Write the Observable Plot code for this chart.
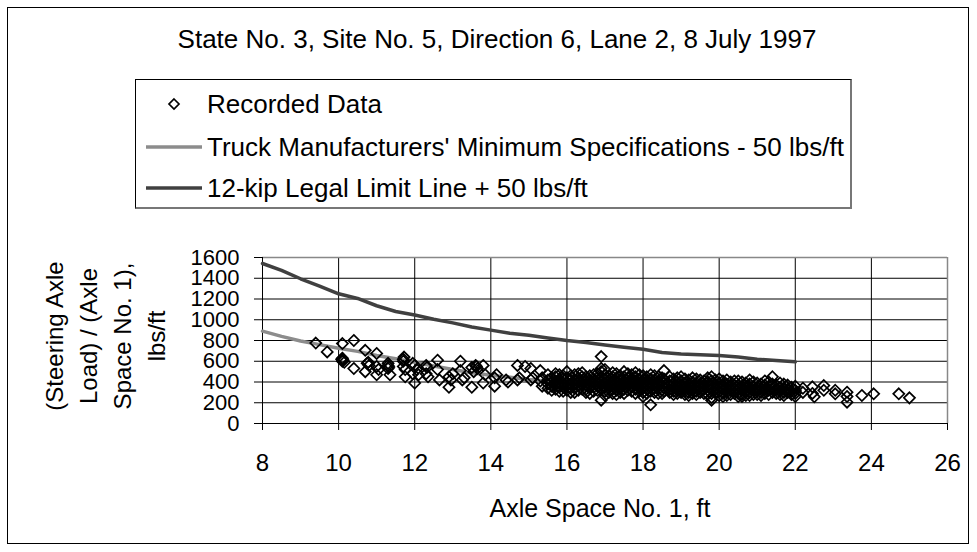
<!DOCTYPE html>
<html>
<head>
<meta charset="utf-8">
<script src="https://cdn.jsdelivr.net/npm/d3@7"></script>
<script src="https://cdn.jsdelivr.net/npm/@observablehq/plot@0.6"></script>
<style>
  html, body { margin: 0; padding: 0; background: #fff; }
  #wrap { position: relative; width: 977px; height: 552px; font-family: "Liberation Sans", Arial, sans-serif; color: #000; overflow: hidden; }
  #frame { position: absolute; left: 7px; top: 7px; width: 962px; height: 537px; border: 1px solid #000; box-sizing: border-box; pointer-events: none; }
  #chart { position: absolute; left: 0; top: 0; }
  .title { position: absolute; left: 497px; top: 24px; transform: translateX(-50%); font-size: 26px; line-height: 30px; white-space: nowrap; }
  .legend { position: absolute; left: 135px; top: 79px; width: 717px; height: 130px; box-sizing: border-box; border-top: 1px solid #000; border-left: 1px solid #000; border-right: 2px solid #777; border-bottom: 2px solid #777; background: #fff; }
  .item { position: absolute; left: 71px; font-size: 26px; line-height: 30px; white-space: nowrap; }
  .sym { position: absolute; }
  .ytitle { position: absolute; left: 16px; top: 268px; width: 180px; height: 136px; transform: rotate(-90deg); transform-origin: 50% 50%; text-align: center; font-size: 24px; line-height: 34px; white-space: nowrap; }
  .xtitle { position: absolute; left: 600px; top: 493px; transform: translateX(-50%); font-size: 25px; line-height: 30px; white-space: nowrap; }
</style>
</head>
<body>
<div id="wrap">
  <div id="chart"></div>
  <div class="title" id="title"></div>
  <div class="legend" id="legend"></div>
  <div class="ytitle" id="ytitle"></div>
  <div class="xtitle" id="xtitle"></div>
  <div id="frame"></div>
</div>
<script>
// ---- texts ----
const titleText = "State No. 3, Site No. 5, Direction 6, Lane 2, 8 July 1997";
const seriesNames = ["Recorded Data", "Truck Manufacturers' Minimum Specifications - 50 lbs/ft", "12-kip Legal Limit Line + 50 lbs/ft"];
const yTitleLines = ["(Steering Axle", "Load) / (Axle", "Space No. 1),", "lbs/ft"];
const xTitleText = "Axle Space No. 1, ft";

// ---- ticks ----
const xTicks = [8, 10, 12, 14, 16, 18, 20, 22, 24, 26];
const yTicks = [0, 200, 400, 600, 800, 1000, 1200, 1400, 1600];

// ---- 12-kip legal limit line + 50 lbs/ft ----
const legalX = [8, 8.5, 9, 9.5, 10, 10.5, 11, 11.5, 12, 12.5, 13, 13.5, 14, 14.5, 15, 15.5, 16, 16.5, 17, 17.5, 18, 18.5, 19, 19.5, 20, 20.5, 21, 21.5, 22];
const legalY = [1542, 1475, 1395, 1325, 1250, 1205, 1135, 1080, 1045, 1005, 970, 930, 900, 870, 850, 825, 800, 780, 757, 735, 715, 685, 670, 662, 655, 640, 620, 607, 595];

// ---- truck manufacturers' minimum specifications - 50 lbs/ft ----
const truckX = [8, 8.5, 9, 9.5, 10, 10.5, 11, 11.5, 12, 12.5, 13, 13.5, 14, 14.5, 15, 15.5, 16, 16.5, 17, 17.5, 18, 18.5, 19, 19.5, 20, 20.5, 21, 21.5, 22];
const truckY = [890, 840, 795, 760, 725, 695, 655, 625, 590, 555, 520, 490, 465, 445, 425, 410, 395, 380, 365, 355, 345, 335, 325, 315, 305, 298, 290, 283, 276];

// ---- recorded data [axle space, lbs/ft] ----
const recorded = [
  [9.4,775],[9.7,690],[10.1,770],[10.1,615],[10.1,600],[10.15,590],[10.1,630],[10.12,610],[10.08,620],
  [10.4,800],[10.4,530],[10.7,705],[10.75,580],[10.7,500],[10.8,560],[10.78,590],
  [11.0,675],[11.0,550],[11.0,470],[11.05,520],[11.3,580],[11.3,530],[11.35,470],[11.3,560],[11.32,545],
  [11.7,620],[11.7,600],[11.72,640],[11.7,550],[11.75,450],[11.75,520],[11.95,580],[11.95,480],
  [12.0,560],[12.05,520],[12.0,390],[12.1,470],[12.3,560],[12.3,480],[12.35,450],[12.32,540],
  [12.6,610],[12.6,520],[12.65,420],[12.9,450],[12.9,350],[12.95,420],[13.0,480],
  [13.2,600],[13.2,510],[13.25,420],[13.3,440],[13.5,540],[13.5,350],[13.55,500],[13.6,560],[13.65,530],[13.62,550],
  [13.8,560],[13.8,390],[13.85,470],[14.1,440],[14.1,360],[14.15,470],[14.4,420],[14.45,400],
  [14.7,560],[14.7,420],[14.75,440],[14.9,550],[15.05,530],[15.05,420],[15.1,440],[15.35,440],[15.35,360],[15.3,410],[15.3,510],
  [15.5,470],[15.5,420],[15.5,380],[15.5,340],
  [15.6,440],[15.6,400],[15.6,360],[15.6,320],
  [15.7,450],[15.7,410],[15.7,370],[15.7,330],[15.7,480],
  [15.8,470],[15.8,430],[15.8,390],[15.8,350],[15.8,310],
  [15.9,460],[15.9,430],[15.9,390],[15.9,350],[15.9,310],
  [16.0,500],[16.0,440],[16.0,400],[16.0,360],[16.0,320],
  [16.1,460],[16.1,420],[16.1,380],[16.1,340],[16.1,300],
  [16.2,470],[16.2,420],[16.2,380],[16.2,340],[16.2,300],
  [16.3,480],[16.3,440],[16.3,400],[16.3,360],[16.3,320],
  [16.4,490],[16.4,450],[16.4,410],[16.4,370],[16.4,330],
  [16.5,450],[16.5,410],[16.5,370],[16.5,330],[16.5,300],
  [16.6,460],[16.6,420],[16.6,380],[16.6,340],[16.6,290],
  [16.7,470],[16.7,430],[16.7,390],[16.7,350],[16.7,310],
  [16.8,480],[16.8,440],[16.8,400],[16.8,360],[16.8,320],
  [16.9,645],[16.9,530],[16.9,500],[16.9,450],[16.9,410],[16.9,370],[16.9,330],[16.9,225],
  [17.0,520],[17.0,470],[17.0,430],[17.0,390],[17.0,350],[17.0,310],[17.0,270],
  [17.1,460],[17.1,420],[17.1,380],[17.1,340],[17.1,300],
  [17.2,490],[17.2,450],[17.2,410],[17.2,370],[17.2,330],[17.2,290],
  [17.3,480],[17.3,440],[17.3,400],[17.3,360],[17.3,320],[17.3,280],
  [17.4,460],[17.4,420],[17.4,380],[17.4,340],[17.4,300],
  [17.5,500],[17.5,450],[17.5,410],[17.5,370],[17.5,330],[17.5,290],
  [17.6,480],[17.6,440],[17.6,400],[17.6,360],[17.6,320],
  [17.7,470],[17.7,430],[17.7,390],[17.7,350],[17.7,310],
  [17.8,490],[17.8,450],[17.8,410],[17.8,370],[17.8,330],[17.8,290],
  [17.9,470],[17.9,430],[17.9,390],[17.9,350],[17.9,310],
  [18.0,460],[18.0,420],[18.0,380],[18.0,340],[18.0,300],[18.0,260],
  [18.1,450],[18.1,410],[18.1,370],[18.1,330],[18.1,290],
  [18.2,470],[18.2,430],[18.2,390],[18.2,350],[18.2,310],[18.2,180],
  [18.3,460],[18.3,420],[18.3,380],[18.3,340],[18.3,300],
  [18.4,450],[18.4,410],[18.4,370],[18.4,330],[18.4,290],
  [18.5,440],[18.5,400],[18.5,360],[18.5,320],[18.5,290],
  [18.55,510],[18.55,430],[18.55,390],[18.55,350],[18.55,310],
  [18.7,450],[18.7,410],[18.7,370],[18.7,330],[18.7,300],
  [18.8,430],[18.8,390],[18.8,350],[18.8,310],[18.8,280],
  [18.9,440],[18.9,400],[18.9,360],[18.9,320],[18.9,290],
  [19.0,450],[19.0,410],[19.0,370],[19.0,330],[19.0,300],
  [19.1,430],[19.1,390],[19.1,350],[19.1,310],[19.1,280],
  [19.2,420],[19.2,380],[19.2,340],[19.2,300],[19.2,270],
  [19.3,440],[19.3,400],[19.3,360],[19.3,320],[19.3,290],
  [19.4,430],[19.4,390],[19.4,350],[19.4,310],[19.4,280],
  [19.5,420],[19.5,380],[19.5,340],[19.5,300],
  [19.6,410],[19.6,370],[19.6,330],[19.6,290],
  [19.7,440],[19.7,400],[19.7,360],[19.7,320],[19.7,280],
  [19.8,450],[19.8,410],[19.8,370],[19.8,330],[19.8,290],[19.8,250],[19.8,225],
  [19.9,420],[19.9,380],[19.9,340],[19.9,300],
  [20.0,430],[20.0,390],[20.0,350],[20.0,310],[20.0,270],
  [20.1,410],[20.1,370],[20.1,330],[20.1,290],[20.1,260],
  [20.2,420],[20.2,380],[20.2,340],[20.2,300],[20.2,270],
  [20.3,400],[20.3,360],[20.3,320],[20.3,280],
  [20.4,410],[20.4,370],[20.4,330],[20.4,290],
  [20.5,410],[20.5,370],[20.5,330],[20.5,290],[20.5,260],
  [20.6,400],[20.6,360],[20.6,320],[20.6,280],[20.6,260],
  [20.7,390],[20.7,350],[20.7,310],[20.7,270],
  [20.8,420],[20.8,380],[20.8,340],[20.8,300],[20.8,270],
  [20.9,400],[20.9,360],[20.9,320],[20.9,280],
  [21.0,390],[21.0,350],[21.0,310],[21.0,280],
  [21.1,380],[21.1,340],[21.1,300],[21.1,270],
  [21.2,410],[21.2,370],[21.2,330],[21.2,290],
  [21.3,400],[21.3,360],[21.3,320],[21.3,280],
  [21.4,450],[21.4,380],[21.4,340],[21.4,300],
  [21.5,370],[21.5,330],[21.5,290],
  [21.6,390],[21.6,350],[21.6,310],[21.6,280],
  [21.7,380],[21.7,340],[21.7,300],[21.7,270],
  [21.8,370],[21.8,330],[21.8,300],
  [21.9,350],[21.9,310],[21.9,280],
  [22.0,360],[22.0,320],[22.0,290],[22.0,260],
  [22.2,340],[22.2,300],[22.45,353],[22.45,290],[22.5,257],
  [22.75,366],[22.75,320],[23.05,286],[23.05,320],
  [23.36,302],[23.36,206],[23.36,260],[23.75,270],[24.06,286],[24.72,286],[25.0,247]
];

// ---- build line tables ----
const legal = legalX.map((x, i) => ({x, y: legalY[i]}));
const truck = truckX.map((x, i) => ({x, y: truckY[i]}));

// ---- texts into DOM ----
document.getElementById("title").textContent = titleText;
document.getElementById("xtitle").textContent = xTitleText;
document.getElementById("ytitle").innerHTML = yTitleLines.map(s => `<div>${s}</div>`).join("");

const legend = document.getElementById("legend");
const rows = [24, 67, 108]; // centres relative to box
legend.innerHTML = `
  <svg class="sym" style="left:0;top:0" width="715" height="128">
    <path d="M38,${rows[0]-5} L43,${rows[0]} L38,${rows[0]+5} L33,${rows[0]} Z" fill="none" stroke="#000" stroke-width="1.7"/>
    <line x1="10" x2="66" y1="${rows[1]}" y2="${rows[1]}" stroke="#8c8c8c" stroke-width="3.5"/>
    <line x1="10" x2="66" y1="${rows[2]}" y2="${rows[2]}" stroke="#404040" stroke-width="3.5"/>
  </svg>
  ${seriesNames.map((s, i) => `<div class="item" style="top:${rows[i]-15}px">${s}</div>`).join("")}
`;

// ---- chart ----
const chart = Plot.plot({
  width: 977,
  height: 552,
  marginLeft: 262,
  marginRight: 30,
  marginTop: 257,
  marginBottom: 129,
  style: {fontFamily: "'Liberation Sans', Arial, sans-serif", fontSize: "22px", background: "transparent", color: "#000"},
  x: {domain: [8, 26]},
  y: {domain: [0, 1600]},
  marks: [
    Plot.gridX(xTicks, {stroke: "#000", strokeOpacity: 1, strokeWidth: 1}),
    Plot.gridY(yTicks, {stroke: "#000", strokeOpacity: 1, strokeWidth: 1}),
    Plot.ruleY([1600], {stroke: "#888", strokeWidth: 1.5}),
    Plot.ruleX([26], {stroke: "#888", strokeWidth: 1.5}),
    Plot.ruleX([8], {stroke: "#000"}),
    Plot.ruleY([0], {stroke: "#000"}),
    Plot.axisX(xTicks, {tickSize: 7, tickPadding: 23, fontSize: 24, label: null, stroke: "#000", tickFormat: d => String(d)}),
    Plot.axisY(yTicks, {tickSize: 8, tickPadding: 15, fontSize: 22, label: null, stroke: "#000", tickFormat: d => String(d)}),
    Plot.line(truck, {x: "x", y: "y", stroke: "#8c8c8c", strokeWidth: 3.5}),
    Plot.line(legal, {x: "x", y: "y", stroke: "#404040", strokeWidth: 3.5}),
    Plot.dot(recorded, {x: d => d[0], y: d => d[1], symbol: "diamond2", r: 5, stroke: "#000", strokeWidth: 1.7, fill: "none"})
  ]
});
document.getElementById("chart").appendChild(chart);
</script>
</body>
</html>
